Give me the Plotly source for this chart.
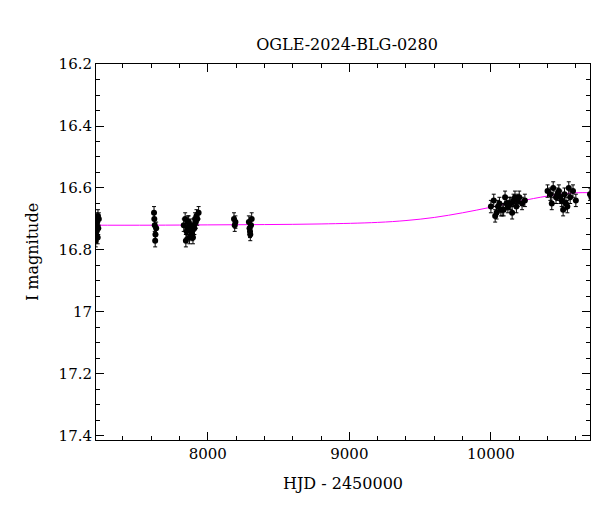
import plotly.graph_objects as go

hjd = [7205,7210,7214,7218,7222,7226,7230,7208,7216,7224,
       7620,7625,7630,7635,7628,7622,
       7830,7840,7850,7860,7870,7880,7890,7900,7910,7920,7935,7845,7865,7885,7905,7925,7855,7875,7895,7915,
       8185,8190,8195,
       8290,8295,8300,8305,8310,8298,
       10000,10020,10040,10060,10080,10100,10120,10140,10160,10180,10200,10220,10240,10030,10070,10110,10150,10190,10050,10090,10130,10170,
       10400,10420,10440,10460,10480,10500,10520,10540,10560,10580,10600,10430,10470,10510,10550,10490,10530,
       10700,10710,10720,10730,10740,10745]
mag = [16.72,16.70,16.74,16.71,16.76,16.73,16.70,16.77,16.72,16.69,
       16.68,16.72,16.75,16.73,16.77,16.70,
       16.72,16.70,16.74,16.71,16.76,16.73,16.75,16.72,16.70,16.69,16.68,16.77,16.71,16.74,16.73,16.70,16.73,16.72,16.76,16.71,
       16.70,16.72,16.71,
       16.71,16.73,16.75,16.72,16.70,16.74,
       16.66,16.64,16.68,16.65,16.67,16.63,16.66,16.65,16.64,16.66,16.63,16.65,16.64,16.69,16.67,16.65,16.68,16.64,16.66,16.67,16.65,16.63,
       16.61,16.62,16.60,16.63,16.61,16.64,16.62,16.66,16.63,16.61,16.64,16.65,16.62,16.67,16.60,16.63,16.65,
       16.62,16.63,16.61,16.64,16.62,16.63]
err = [0.02]*len(hjd)

model_t = [7150,7600,8000,8400,8800,9200,9400,9600,9800,10000,10200,10400,10550,10650,10750]
model_m = [16.720,16.720,16.719,16.718,16.716,16.711,16.705,16.695,16.680,16.662,16.643,16.626,16.617,16.615,16.616]

fnt = "DejaVu Serif"
fig = go.Figure()
fig.add_trace(go.Scatter(x=model_t, y=model_m, mode="lines", line=dict(color="magenta", width=1, shape="spline")))
fig.add_trace(go.Scatter(x=hjd, y=mag, mode="markers", marker=dict(color="black", size=6),
                         error_y=dict(type="data", array=err, color="black", thickness=1, width=2)))
ax = dict(showgrid=False, zeroline=False, showline=True, linecolor="black", linewidth=1, mirror="allticks",
          ticks="inside", ticklen=8, tickcolor="black", tickfont=dict(family=fnt, size=15, color="black"))
fig.update_layout(width=600, height=512, plot_bgcolor="white", paper_bgcolor="white", showlegend=False,
                  margin=dict(l=88, r=18, t=56, b=80),
                  title=dict(text="OGLE-2024-BLG-0280", x=0.565, y=0.94, xanchor="center", font=dict(family=fnt, size=16, color="black")),
                  xaxis=dict(ax, range=[7210, 10700], dtick=1000, tickformat="d",
                             minor=dict(ticks="inside", ticklen=4, tickcolor="black", dtick=200),
                             title=dict(text="HJD - 2450000", font=dict(family=fnt, size=16, color="black"))),
                  yaxis=dict(ax, range=[17.413, 16.2], dtick=0.2,
                             minor=dict(ticks="inside", ticklen=4, tickcolor="black", dtick=0.05),
                             title=dict(text="I magnitude", font=dict(family=fnt, size=16, color="black"))))
fig.write_html("out.html")
